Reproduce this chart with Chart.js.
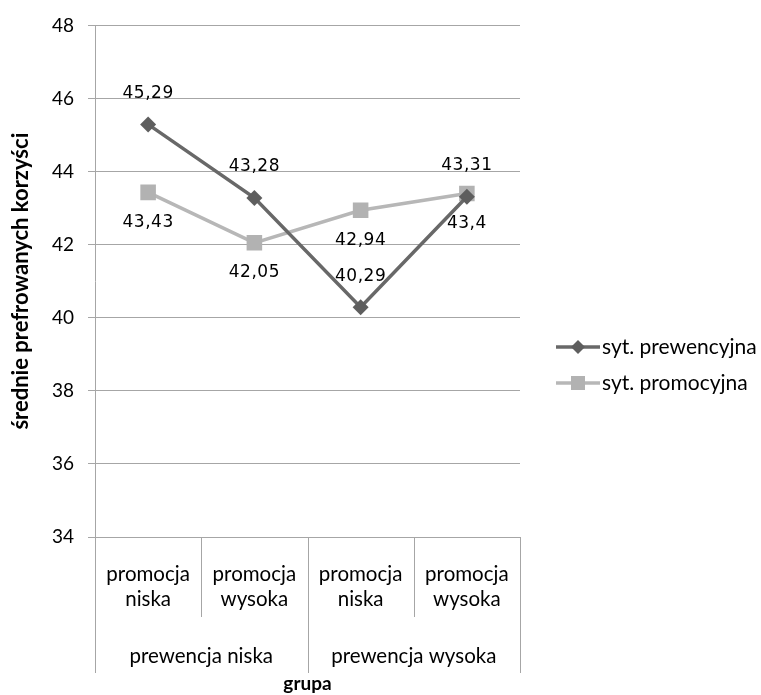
<!DOCTYPE html>
<html>
<head>
<meta charset="utf-8">
<script src="https://cdn.jsdelivr.net/npm/chart.js@4.4.1/dist/chart.umd.min.js"></script>
<style>
  html, body { margin: 0; padding: 0; background: #fff; }
  #wrap { width: 761px; height: 695px; }
</style>
</head>
<body>
<div id="wrap"><canvas id="wykres"></canvas></div>
<script>
// dane
const kategorie = [['promocja', 'niska'], ['promocja', 'wysoka'], ['promocja', 'niska'], ['promocja', 'wysoka']];
const grupy = ['prewencja niska', 'prewencja wysoka'];
const prewencyjna = [45.29, 43.28, 40.29, 43.31];
const promocyjna = [43.43, 42.05, 42.94, 43.4];
const osY = [34, 36, 38, 40, 42, 44, 46, 48];

const FONT = 'Lato, "Open Sans", sans-serif';
const SIATKA = '#a6a6a6';

// etykiety wartości nad / pod punktami
const etykietyDanych = {
    id: 'etykietyDanych',
    afterDatasetsDraw(chart) {
        const ctx = chart.ctx;
        ctx.save();
        ctx.font = '17px "DejaVu Sans", sans-serif';
        ctx.letterSpacing = '0.5px';
        ctx.fillStyle = '#000';
        ctx.textAlign = 'center';
        ctx.textBaseline = 'middle';
        chart.data.datasets.forEach((ds, i) => {
            chart.getDatasetMeta(i).data.forEach((pt, j) => {
                const txt = String(ds.data[j]).replace('.', ',');
                ctx.fillText(txt, pt.x, pt.y + ds.przesuniecieEtykiety);
            });
        });
        ctx.letterSpacing = '0px';
        ctx.restore();
    }
};

// linie podziału pod osią X + grupy
const grupyOsiX = {
    id: 'grupyOsiX',
    afterDraw(chart) {
        const ctx = chart.ctx;
        const x = chart.scales.x;
        const a = chart.chartArea;
        const n = kategorie.length;
        const granica = (i) => {
            if (i === 0) return a.left;
            if (i === n) return a.right;
            return (x.getPixelForValue(i - 1) + x.getPixelForValue(i)) / 2;
        };
        ctx.save();
        ctx.strokeStyle = SIATKA;
        ctx.lineWidth = 1;
        for (let i = 0; i <= n; i++) {
            const px = Math.round(granica(i)) + 0.5;
            const dol = (i % 2 === 0) ? a.bottom + 136 : a.bottom + 80;
            ctx.beginPath();
            ctx.moveTo(px, a.bottom);
            ctx.lineTo(px, dol);
            ctx.stroke();
        }
        ctx.font = '20.5px ' + FONT;
        ctx.fillStyle = '#000';
        ctx.textAlign = 'center';
        ctx.textBaseline = 'middle';
        grupy.forEach((g, k) => {
            const cx = (granica(k * 2) + granica(k * 2 + 2)) / 2;
            ctx.fillText(g, cx, a.bottom + 119);
        });
        ctx.restore();
    }
};

// legenda: linia z markerem
const legenda = {
    id: 'legenda',
    afterDraw(chart) {
        const ctx = chart.ctx;
        ctx.save();
        chart.data.datasets.forEach((ds, i) => {
            const y = 347 + i * 36;
            ctx.strokeStyle = ds.borderColor;
            ctx.lineWidth = ds.borderWidth;
            ctx.beginPath();
            ctx.moveTo(556, y);
            ctx.lineTo(600, y);
            ctx.stroke();
            ctx.fillStyle = ds.pointBackgroundColor;
            ctx.beginPath();
            if (ds.pointStyle === 'rect') {
                ctx.rect(578 - 7, y - 7, 14, 14);
            } else {
                const r = 7;
                ctx.moveTo(578, y - r); ctx.lineTo(578 + r, y); ctx.lineTo(578, y + r); ctx.lineTo(578 - r, y);
                ctx.closePath();
            }
            ctx.fill();
            ctx.font = '21px ' + FONT;
            ctx.fillStyle = '#000';
            ctx.textAlign = 'left';
            ctx.textBaseline = 'middle';
            ctx.fillText(ds.label, 602, y);
        });
        ctx.restore();
    }
};

new Chart(document.getElementById('wykres').getContext('2d'), {
    type: 'line',
    data: {
        labels: kategorie,
        datasets: [{
            label: 'syt. prewencyjna',
            data: prewencyjna,
            borderColor: '#686868',
            backgroundColor: '#5e5e5e',
            pointBackgroundColor: '#5e5e5e',
            pointBorderWidth: 0,
            borderWidth: 3.5,
            pointStyle: 'rectRot',
            pointRadius: 8,
            przesuniecieEtykiety: -31
        }, {
            label: 'syt. promocyjna',
            data: promocyjna,
            borderColor: '#b7b7b7',
            backgroundColor: '#b2b2b2',
            pointBackgroundColor: '#b2b2b2',
            pointBorderWidth: 0,
            borderWidth: 3.5,
            pointStyle: 'rect',
            pointRadius: 11,
            przesuniecieEtykiety: 30
        }]
    },
    options: {
        responsive: true,
        maintainAspectRatio: false,
        animation: false,
        layout: { padding: { left: 8, right: 241, top: 25, bottom: 0 } },
        plugins: {
            legend: { display: false },
            tooltip: { enabled: false }
        },
        scales: {
            y: {
                min: 34,
                max: 48,
                afterFit(s) { s.width = 87; },
                afterBuildTicks(s) { s.ticks = osY.map(v => ({ value: v })); },
                ticks: { color: '#000', font: { family: FONT, size: 19 }, padding: 14 },
                grid: { color: SIATKA, tickLength: 7 },
                border: { color: SIATKA },
                title: {
                    display: true,
                    text: 'średnie prefrowanych korzyści',
                    color: '#000',
                    font: { family: FONT, size: 22, weight: 'bold' },
                    padding: { top: 0, bottom: 0 }
                }
            },
            x: {
                offset: true,
                afterFit(s) { s.height = 158; },
                ticks: {
                    color: '#000',
                    font: { family: FONT, size: 20.5, lineHeight: 1.22 },
                    padding: 25,
                    maxRotation: 0,
                    autoSkip: false
                },
                grid: { display: false, drawTicks: false },
                border: { color: SIATKA },
                title: {
                    display: true,
                    text: 'grupa',
                    color: '#000',
                    font: { family: FONT, size: 19, weight: 'bold' },
                    padding: { top: 0, bottom: 0 }
                }
            }
        }
    },
    plugins: [etykietyDanych, grupyOsiX, legenda]
});
</script>
</body>
</html>
